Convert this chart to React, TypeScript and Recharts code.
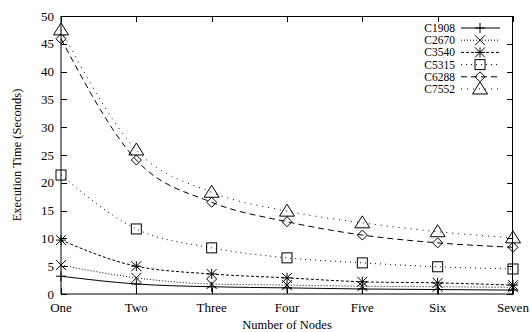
import React from "react";
import { LineChart, Line, XAxis, YAxis } from "recharts";

const nodes = ["One", "Two", "Three", "Four", "Five", "Six", "Seven"];
const c1908 = [3.2, 1.8, 1.3, 1.1, 0.9, 0.8, 0.7];
const c2670 = [5.2, 2.9, 1.8, 1.6, 1.4, 1.3, 1.2];
const c3540 = [9.7, 5.0, 3.6, 2.9, 2.2, 2.0, 1.6];
const c5315 = [21.4, 11.7, 8.3, 6.5, 5.6, 4.9, 4.5];
const c6288 = [45.9, 24.1, 16.5, 13.0, 10.6, 9.2, 8.4];
const c7552 = [47.5, 25.9, 18.3, 14.9, 12.8, 11.2, 10.1];
const yTicks = [0, 5, 10, 15, 20, 25, 30, 35, 40, 45, 50];
const Y_MAX = 50;

const FONT = "'Times New Roman', 'Liberation Serif', 'DejaVu Serif', serif";

// chart layout
const W = 531;
const H = 332;
const MARGIN = { top: 16, right: 18, bottom: 0, left: 0 };
const Y_AXIS_W = 61;
const X_AXIS_H = 38;
const PLOT_X = MARGIN.left + Y_AXIS_W;
const PLOT_Y = MARGIN.top;
const PLOT_W = W - MARGIN.left - MARGIN.right - Y_AXIS_W;
const PLOT_H = H - MARGIN.top - MARGIN.bottom - X_AXIS_H;
const TICK = 6;

type Shape = "plus" | "cross" | "star" | "square" | "diamond" | "triangle";

const seriesDefs: { key: string; name: string; dash: string; shape: Shape }[] = [
  { key: "c1908", name: "C1908", dash: "", shape: "plus" },
  { key: "c2670", name: "C2670", dash: "1 2", shape: "cross" },
  { key: "c3540", name: "C3540", dash: "3 2", shape: "star" },
  { key: "c5315", name: "C5315", dash: "1 4", shape: "square" },
  { key: "c6288", name: "C6288", dash: "6 4", shape: "diamond" },
  { key: "c7552", name: "C7552", dash: "1 5", shape: "triangle" },
];

const data = nodes.map((n, i) => ({
  node: n,
  c1908: c1908[i],
  c2670: c2670[i],
  c3540: c3540[i],
  c5315: c5315[i],
  c6288: c6288[i],
  c7552: c7552[i],
}));

function Marker({ shape, cx, cy }: { shape: Shape; cx: number; cy: number }) {
  const s = 5;
  const p = { stroke: "#000", strokeWidth: 1, fill: "none" };
  switch (shape) {
    case "plus":
      return (
        <g {...p}>
          <line x1={cx - s} y1={cy} x2={cx + s} y2={cy} />
          <line x1={cx} y1={cy - s} x2={cx} y2={cy + s} />
        </g>
      );
    case "cross":
      return (
        <g {...p}>
          <line x1={cx - s} y1={cy - s} x2={cx + s} y2={cy + s} />
          <line x1={cx - s} y1={cy + s} x2={cx + s} y2={cy - s} />
        </g>
      );
    case "star":
      return (
        <g {...p}>
          <line x1={cx - s} y1={cy} x2={cx + s} y2={cy} />
          <line x1={cx} y1={cy - s} x2={cx} y2={cy + s} />
          <line x1={cx - s} y1={cy - s} x2={cx + s} y2={cy + s} />
          <line x1={cx - s} y1={cy + s} x2={cx + s} y2={cy - s} />
        </g>
      );
    case "square":
      return <rect x={cx - s} y={cy - s} width={2 * s} height={2 * s} {...p} />;
    case "diamond":
      return (
        <polygon
          points={`${cx},${cy - s} ${cx + s},${cy} ${cx},${cy + s} ${cx - s},${cy}`}
          {...p}
        />
      );
    case "triangle":
      return (
        <polygon
          points={`${cx},${cy - 7} ${cx + 7.5},${cy + 5} ${cx - 7.5},${cy + 5}`}
          {...p}
        />
      );
  }
}

const BottomTick = (props: any) => {
  const { x, y, payload } = props;
  return (
    <text x={x} y={y + 18} textAnchor="middle" style={{ fontFamily: FONT, fontSize: 13 }} fill="#000">
      {payload.value}
    </text>
  );
};

const LeftTick = (props: any) => {
  const { x, y, payload } = props;
  return (
    <text x={x - 7} y={y + 4.5} textAnchor="end" style={{ fontFamily: FONT, fontSize: 13 }} fill="#000">
      {payload.value}
    </text>
  );
};

const XLabel = (props: any) => {
  const { viewBox } = props;
  const cx = viewBox.x + viewBox.width / 2;
  return (
    <text x={cx} y={329} textAnchor="middle" style={{ fontFamily: FONT, fontSize: 12.5 }} fill="#000">
      Number of Nodes
    </text>
  );
};

const YLabel = (props: any) => {
  const { viewBox } = props;
  const cy = viewBox.y + viewBox.height / 2;
  return (
    <text
      x={21}
      y={cy}
      transform={`rotate(-90 21 ${cy})`}
      textAnchor="middle"
      style={{ fontFamily: FONT, fontSize: 12.5 }}
      fill="#000"
    >
      Execution Time (Seconds)
    </text>
  );
};

// gnuplot-style border with inward ticks, drawn as plain HTML boxes
const tickBox = (left: number, top: number, w: number, h: number, key: string) => (
  <div key={key} style={{ position: "absolute", left, top, width: w, height: h, background: "#000" }} />
);

const Frame = () => {
  const step = PLOT_W / (nodes.length - 1);
  const marks: React.ReactNode[] = [];
  nodes.forEach((n, i) => {
    const x = Math.round(PLOT_X + i * step);
    marks.push(tickBox(x, PLOT_Y + PLOT_H - TICK, 1, TICK, `b${n}`));
    marks.push(tickBox(x, PLOT_Y, 1, TICK, `t${n}`));
  });
  yTicks.forEach((t) => {
    const y = Math.round(PLOT_Y + PLOT_H * (1 - t / Y_MAX));
    marks.push(tickBox(PLOT_X, y, TICK, 1, `l${t}`));
    marks.push(tickBox(PLOT_X + PLOT_W - TICK, y, TICK, 1, `r${t}`));
  });
  return (
    <div style={{ position: "absolute", left: 0, top: 0, width: W, height: H, pointerEvents: "none" }}>
      <div
        style={{
          position: "absolute",
          left: PLOT_X,
          top: PLOT_Y,
          width: PLOT_W,
          height: PLOT_H,
          borderTop: "1px solid #000",
          borderRight: "1px solid #000",
          boxSizing: "border-box",
        }}
      />
      {marks}
    </div>
  );
};

const LegendBox = () => (
  <svg width={130} height={80} style={{ position: "absolute", left: 380, top: 20 }}>
    {seriesDefs.map((d, i) => {
      const y = 8 + i * 12.2;
      return (
        <g key={d.key}>
          <text x={75} y={y + 4} textAnchor="end" style={{ fontFamily: FONT, fontSize: 11.5 }} fill="#000">
            {d.name}
          </text>
          <line x1={81} y1={y} x2={120} y2={y} stroke="#000" strokeDasharray={d.dash || undefined} />
          <Marker shape={d.shape} cx={100} cy={y} />
        </g>
      );
    })}
  </svg>
);

export default function App() {
  return (
    <div style={{ position: "absolute", left: 0, top: 0, width: W, height: H, background: "#fff" }}>
      <LineChart width={W} height={H} data={data} margin={MARGIN}>
        <XAxis
          dataKey="node"
          height={X_AXIS_H}
          stroke="#000"
          tickSize={0}
          tickMargin={0}
          tickLine={false}
          tick={<BottomTick />}
          interval={0}
          label={<XLabel />}
        />
        <YAxis
          domain={[0, Y_MAX]}
          ticks={yTicks}
          width={Y_AXIS_W}
          stroke="#000"
          tickSize={0}
          tickMargin={0}
          tickLine={false}
          tick={<LeftTick />}
          interval={0}
          label={<YLabel />}
        />
        {seriesDefs.map((d) => (
          <Line
            key={d.key}
            type="monotone"
            dataKey={d.key}
            name={d.name}
            stroke="#000"
            strokeWidth={1}
            strokeDasharray={d.dash || undefined}
            dot={(p: any) => <Marker key={`${d.key}-${p.index}`} shape={d.shape} cx={p.cx} cy={p.cy} />}
            activeDot={false}
            isAnimationActive={false}
          />
        ))}
      </LineChart>
      <Frame />
      <LegendBox />
    </div>
  );
}
